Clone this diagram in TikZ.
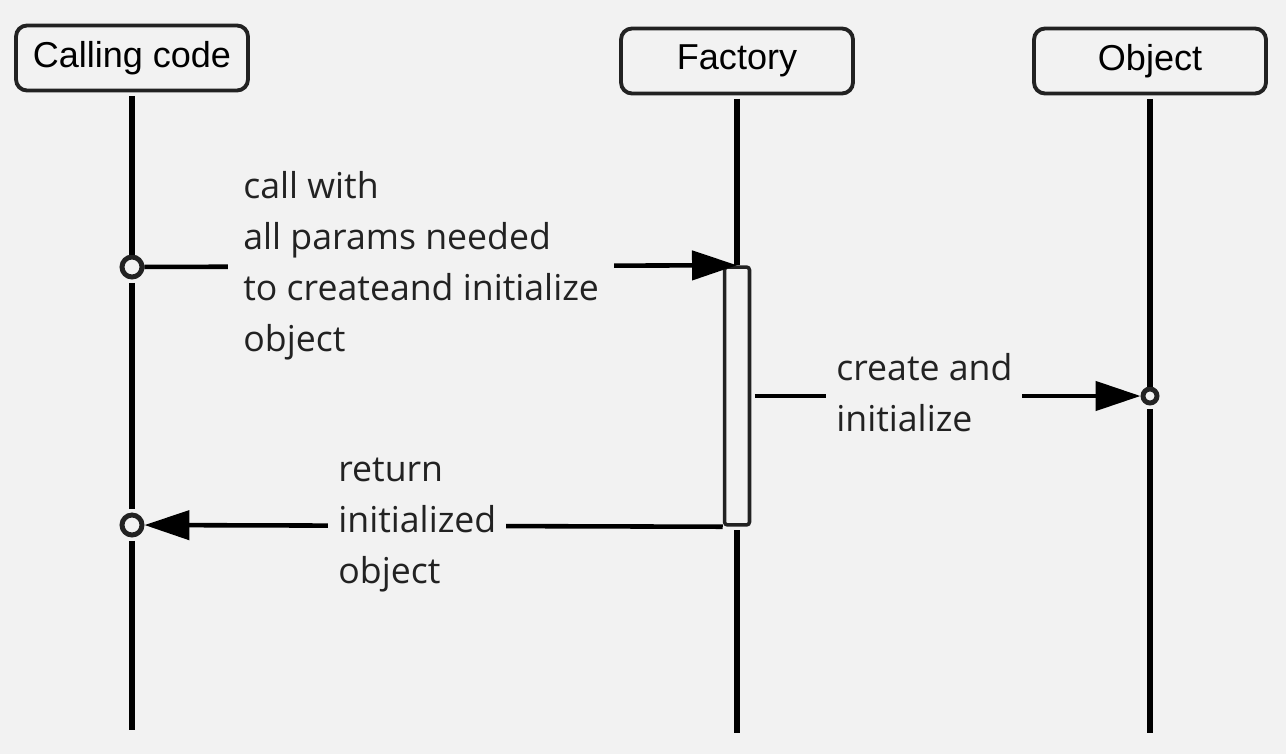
\documentclass[tikz,border=0pt]{standalone}
\usepackage{fontspec}
\setmainfont{Liberation Sans}
\newfontfamily\labelfont{Open Sans}
\usetikzlibrary{arrows.meta}
\definecolor{bgcol}{HTML}{F2F2F2}
\definecolor{inkcol}{HTML}{222222}

\begin{document}
\begin{tikzpicture}[x=0.02cm, y=-0.02cm, >={Triangle[length=0.9cm,width=0.58cm]}]
    % gaya
    \tikzstyle{actor}=[draw=inkcol, line width=2.2pt, rounded corners=0.22cm, fill=bgcol, minimum width=4.64cm, minimum height=1.3cm, inner sep=0pt, font=\fontsize{20.5}{23}\selectfont, text=black]
    \tikzstyle{lifeline}=[line width=3.8pt]
    \tikzstyle{dot}=[circle, draw=inkcol, line width=2.8pt, fill=bgcol, minimum size=0.4cm, inner sep=0pt]
    \tikzstyle{activation}=[draw=inkcol, line width=2pt, rounded corners=0.06cm, fill=bgcol, minimum width=0.5cm, minimum height=5.16cm, inner sep=0pt]
    \tikzstyle{msg}=[line width=2.6pt]
    \tikzstyle{lbl}=[fill=bgcol, align=left, anchor=west, inner xsep=0.2cm, inner ysep=2pt, font=\labelfont\fontsize{20.3}{29}\selectfont, text=inkcol]

    % latar
    \fill[bgcol] (0,0) rectangle (1286,754);

    % peserta
    \node[actor] (caller) at (132,58) {Calling code};
    \node[actor] (factory) at (737,61) {Factory};
    \node[actor] (object) at (1150,61) {Object};

    % ujung garis hidup
    \coordinate (callerend) at (132,730);
    \coordinate (factoryend) at (737,733);
    \coordinate (objectend) at (1150,733);

    % aktivasi dan titik pesan
    \node[activation] (act) at (737,396) {};
    \node[dot] (call) at (132,267) {};
    \node[dot] (ret) at (132,525) {};
    \node[dot, minimum size=0.28cm] (recv) at (1150,396) {};

    % garis hidup
    \draw[lifeline, shorten <=2pt] (caller) -- (call);
    \draw[lifeline, shorten <=2pt, shorten >=2pt] (call) -- (ret);
    \draw[lifeline, shorten <=2pt] (ret) -- (callerend);
    \draw[lifeline, shorten <=2pt] (factory) -- (act);
    \draw[lifeline, shorten <=2pt] (act) -- (factoryend);
    \draw[lifeline, shorten <=2pt] (object) -- (recv);
    \draw[lifeline, shorten <=2pt] (recv) -- (objectend);

    % pesan
    \draw[msg, ->] (call) -- (act.north);              % call -> factory
    \draw[msg, ->, shorten <=2pt] (act.east) -- (recv); % factory -> object
    \draw[msg, ->] (act.south west) -- (ret);          % factory -> caller

    % teks pesan
    \node[lbl, inner xsep=0.3cm] (calltext) at (228,266) {call with\\all params needed\\to createand initialize\\object};
    \node[lbl] (createtext) at (826,393) {create and\\initialize};
    \node[lbl] (returntext) at (328,525) {return\\initialized\\object};
\end{tikzpicture}
\end{document}
